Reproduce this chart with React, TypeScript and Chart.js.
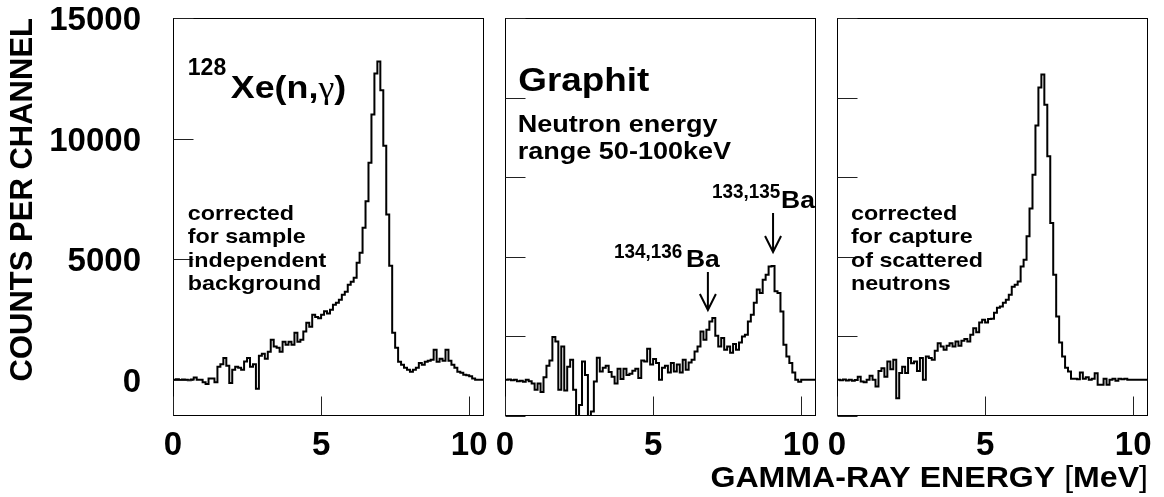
import React, { useEffect, useRef } from 'react';
import { Chart, registerables } from 'chart.js';

Chart.register(...registerables);

// Energy binning of the spectra (MeV)
const BIN_WIDTH = 0.1;
const E_MAX = 10.5;

// Counts per 0.1 MeV channel, 128Xe(n,gamma), corrected for sample independent background
const XE128_COUNTS = [
  0, 20, -10, 10, 0, -20, 10, 100, 0, 0,
  -100, -170, 50, 50, -100, 540, 650, 900, 580, -130,
  415, 540, 500, 415, 760, 900, 540, 650, -370, 1000,
  1080, 870, 1160, 1660, 1380, 1330, 1160, 1580, 1450, 1580,
  1450, 1950, 1580, 1660, 2000, 2370, 2200, 2700, 2600, 2550,
  2700, 2840, 2750, 2900, 3110, 3200, 3320, 3530, 3650, 3940,
  4070, 4230, 4850, 5270, 6300, 7400, 9000, 11000, 12700, 13200,
  12000, 9700, 6850, 4730, 1950, 1330, 750, 620, 500, 415,
  330, 415, 500, 700, 620, 750, 790, 830, 1250, 750,
  870, 790, 1250, 790, 620, 500, 330, 290, 210, 190,
  150, 50, 0, 0, 0,
];

// Counts per channel, graphite sample, neutron energy range 50-100 keV
const GRAPHITE_COUNTS = [
  0, 10, -20, 0, -60, -40, -80, 0, -60, -150,
  -415, -150, -500, 110, 580, 800, 1780, 1590, -410, 1380,
  -440, 540, 830, -410, -2500, -1040, 760, 200, -2500, -1310,
  -70, 910, 340, 500, 580, 320, 130, -150, 460, 30,
  460, 200, 250, 380, 460, 80, 800, 760, 1290, 640,
  860, 700, 0, 500, 580, 300, 700, 340, 630, 300,
  830, 415, 720, 830, 1170, 1380, 2000, 1660, 2075, 2420,
  2560, 1830, 1380, 1730, 1245, 1380, 1120, 1490, 1245, 1550,
  1800, 1870, 2420, 2700, 3190, 3740, 3600, 4150, 4360, 4700,
  4720, 3670, 3600, 2830, 1450, 970, 700, 300, 0, -80,
  0, 0, 0, 0, 0,
];

// Counts per channel, 128Xe corrected for capture of scattered neutrons
const XE128_SCATTER_CORRECTED_COUNTS = [
  0, -20, 10, -30, 0, -40, -10, 130, -70, -100,
  0, 170, 0, -280, 370, 480, 130, 760, 440, 830,
  -760, 280, 540, 280, 900, 690, 760, 370, 900, 0,
  970, 900, 830, 1210, 1520, 1380, 1250, 1410, 1520, 1380,
  1590, 1410, 1620, 1690, 1590, 1870, 2140, 1970, 2380, 2490,
  2380, 2520, 2530, 2780, 2990, 3040, 3190, 3320, 3530, 3860,
  3940, 4080, 4700, 4980, 5950, 7100, 8500, 10540, 12120, 12660,
  11400, 9270, 6500, 4360, 2630, 1550, 970, 500, 340, 40,
  40, 20, 300, 40, 110, 0, 40, 270, -200, -200,
  40, -200, 0, 40, -40, 40, 20, 40, 0, 0,
  0, 0, 0, 0, 0,
];

const X_TICKS = [0, 5, 10];
const Y_TICKS = [0, 5000, 10000, 15000];
const Y_MIN = -1500;
const Y_MAX = 15000;
// Relative scale ticks shown on the middle and right panels
const REL_TICKS = [0, 1, 2, 3, 4, 5];

const SANS = "'Liberation Sans', Arial, Helvetica, sans-serif";
const SERIF = "'Liberation Serif', 'Times New Roman', serif";
const INK = '#000';

const W = 1164;
const H = 497;

type Run = { text: string; size: number; bold?: boolean; serif?: boolean };
type Note = { x: number; y: number; runs: Run[]; sx?: number; align?: 'left' | 'right' };
type Arrow = { x: number; from: number; to: number };
type TickSet = { scale: string; values: number[]; length: number };
type DecorOptions = { ticks: TickSet[]; notes: Note[]; arrows: Arrow[] };

const label = (text: string, size: number, x: number, y: number, sx = 1): Note => ({
  x,
  y,
  sx,
  runs: [{ text, size, bold: true }],
});

const toPoints = (counts: number[]) => {
  const pts = counts.map((c, i) => ({ x: i * BIN_WIDTH, y: c }));
  pts.push({ x: E_MAX, y: counts[counts.length - 1] });
  return pts;
};

const runFont = (run: Run) => `${run.bold ? 'bold ' : ''}${run.size}px ${run.serif ? SERIF : SANS}`;

// Frame, inward tick marks, text labels and arrows for one panel
const panelDecor = {
  id: 'panelDecor',
  afterDatasetsDraw(chart: any, _args: any, opts: DecorOptions) {
    const { ctx, chartArea, scales } = chart;
    const xs = scales.x;
    const ys = scales.y;
    ctx.save();
    ctx.strokeStyle = INK;
    ctx.lineWidth = 1;
    const l = Math.round(chartArea.left) + 0.5;
    const t = Math.round(chartArea.top) + 0.5;
    const r = Math.round(chartArea.right) - 0.5;
    const b = Math.round(chartArea.bottom) - 0.5;
    ctx.strokeRect(l, t, r - l, b - t);

    ctx.strokeStyle = '#222';
    for (const set of opts.ticks || []) {
      const s = scales[set.scale];
      ctx.beginPath();
      for (const v of set.values) {
        if (s.isHorizontal()) {
          const px = Math.round(s.getPixelForValue(v)) + 0.5;
          ctx.moveTo(px, b);
          ctx.lineTo(px, b - set.length);
        } else {
          const py = Math.round(s.getPixelForValue(v)) + 0.5;
          ctx.moveTo(l, py);
          ctx.lineTo(l + set.length, py);
        }
      }
      ctx.stroke();
    }

    ctx.fillStyle = INK;
    ctx.textBaseline = 'alphabetic';
    ctx.textAlign = 'left';
    for (const n of opts.notes || []) {
      ctx.save();
      ctx.translate(xs.getPixelForValue(n.x), ys.getPixelForValue(n.y));
      ctx.scale(n.sx || 1, 1);
      let cx = 0;
      if (n.align === 'right') {
        for (const run of n.runs) {
          ctx.font = runFont(run);
          cx -= ctx.measureText(run.text).width;
        }
      }
      for (const run of n.runs) {
        ctx.font = runFont(run);
        ctx.fillText(run.text, cx, 0);
        cx += ctx.measureText(run.text).width;
      }
      ctx.restore();
    }

    ctx.strokeStyle = INK;
    ctx.lineWidth = 2;
    for (const a of opts.arrows || []) {
      const px = xs.getPixelForValue(a.x);
      const y0 = ys.getPixelForValue(a.from);
      const y1 = ys.getPixelForValue(a.to);
      ctx.beginPath();
      ctx.moveTo(px, y0);
      ctx.lineTo(px, y1);
      ctx.moveTo(px - 8, y1 - 16);
      ctx.lineTo(px, y1);
      ctx.lineTo(px + 8, y1 - 16);
      ctx.stroke();
    }
    ctx.restore();
  },
};

const tickFont = { family: SANS, size: 33, weight: 'bold' as const };

const setTicks = (values: number[]) => (axis: any) => {
  axis.ticks = values.map((v) => ({ value: v }));
};

function makeConfig(
  counts: number[],
  area: { left: number; right: number },
  decor: DecorOptions,
  first: boolean
): any {
  return {
    type: 'line',
    data: {
      datasets: [
        {
          data: toPoints(counts),
          borderColor: INK,
          borderWidth: 2,
          pointRadius: 0,
          stepped: true,
          fill: false,
        },
      ],
    },
    plugins: [panelDecor],
    options: {
      animation: false,
      responsive: false,
      events: [],
      layout: {
        padding: { left: 0, right: W - area.right, top: 18, bottom: 0 },
      },
      plugins: {
        legend: { display: false },
        tooltip: { enabled: false },
        panelDecor: decor,
      },
      scales: {
        x: {
          type: 'linear',
          min: 0,
          max: E_MAX,
          afterBuildTicks: setTicks(X_TICKS),
          afterFit: (s: any) => {
            s.height = H - 416;
            s.paddingLeft = 0;
            s.paddingRight = 0;
          },
          grid: { display: false, drawTicks: false },
          border: { display: false },
          ticks: {
            font: tickFont,
            color: INK,
            padding: 10,
            maxRotation: 0,
            autoSkip: false,
            callback: (v: number) => String(v),
          },
        },
        y: {
          type: 'linear',
          display: first,
          min: Y_MIN,
          max: Y_MAX,
          afterBuildTicks: setTicks(Y_TICKS),
          afterFit: (s: any) => {
            s.width = area.left;
            s.paddingTop = 0;
            s.paddingBottom = 0;
          },
          grid: { display: false, drawTicks: false },
          border: { display: false },
          ticks: {
            font: tickFont,
            color: INK,
            padding: 32,
            labelOffset: 3,
            autoSkip: false,
            callback: (v: number) => String(v),
          },
          title: {
            display: first,
            text: 'COUNTS PER CHANNEL',
            align: 'end',
            color: INK,
            font: { family: SANS, size: 31, weight: 'bold' },
            padding: { top: 5, bottom: 0 },
          },
        },
        rel: {
          type: 'linear',
          display: false,
          position: 'left',
          min: 0,
          max: 5,
          afterFit: (s: any) => {
            s.width = 0;
            s.paddingTop = 0;
            s.paddingBottom = 0;
          },
        },
      },
    },
  };
}

const NOTE_LINES = [6625, 5680, 4690, 3720];
// Baseline of the energy axis title, below the panels
const X_TITLE_Y = -4444;

const PANELS: { counts: number[]; area: { left: number; right: number }; decor: DecorOptions }[] = [
  {
    counts: XE128_COUNTS,
    area: { left: 173, right: 484 },
    decor: {
      ticks: [
        { scale: 'x', values: X_TICKS, length: 19 },
        { scale: 'y', values: Y_TICKS, length: 20 },
      ],
      notes: [
        label('128', 23, 0.5, 12640),
        {
          x: 1.95,
          y: 11670,
          sx: 1.12,
          runs: [
            { text: 'Xe(n,', size: 32, bold: true },
            { text: 'γ', size: 32, serif: true },
            { text: ')', size: 32, bold: true },
          ],
        },
        ...['corrected', 'for sample', 'independent', 'background'].map((t, i) =>
          label(t, 21, 0.5, NOTE_LINES[i], 1.11)
        ),
      ],
      arrows: [],
    },
  },
  {
    counts: GRAPHITE_COUNTS,
    area: { left: 505, right: 816 },
    decor: {
      ticks: [
        { scale: 'x', values: X_TICKS, length: 19 },
        { scale: 'rel', values: REL_TICKS, length: 20 },
      ],
      notes: [
        label('Graphit', 33.5, 0.45, 11973, 1.1),
        label('Neutron energy', 23.5, 0.43, 10260, 1.15),
        label('range 50-100keV', 23.5, 0.43, 9154, 1.15),
        label('134,136', 21, 3.68, 5050, 0.9),
        label('Ba', 23, 6.11, 4677, 1.15),
        label('133,135', 21, 6.99, 7537, 0.9),
        label('Ba', 23, 9.32, 7122, 1.15),
      ],
      arrows: [
        { x: 6.85, from: 4469, to: 2894 },
        { x: 9.05, from: 6915, to: 5298 },
      ],
    },
  },
  {
    counts: XE128_SCATTER_CORRECTED_COUNTS,
    area: { left: 837, right: 1148 },
    decor: {
      ticks: [
        { scale: 'x', values: X_TICKS, length: 19 },
        { scale: 'rel', values: REL_TICKS, length: 20 },
      ],
      notes: [
        ...['corrected', 'for capture', 'of scattered', 'neutrons'].map((t, i) =>
          label(t, 21, 0.47, NOTE_LINES[i], 1.11)
        ),
        {
          x: E_MAX,
          y: X_TITLE_Y,
          sx: 1.07,
          align: 'right',
          runs: [
            { text: 'GAMMA-RAY ENERGY ', size: 30, bold: true },
            { text: '[', size: 30 },
            { text: 'MeV', size: 30, bold: true },
            { text: ']', size: 30 },
          ],
        },
      ],
      arrows: [],
    },
  },
];

function Panel({ index }: { index: number }) {
  const ref = useRef<HTMLCanvasElement | null>(null);
  useEffect(() => {
    const p = PANELS[index];
    const chart = new Chart(
      ref.current as HTMLCanvasElement,
      makeConfig(p.counts, p.area, p.decor, index === 0)
    );
    return () => chart.destroy();
  }, [index]);
  return (
    <canvas
      ref={ref}
      width={W}
      height={H}
      style={{ position: 'absolute', left: 0, top: 0, width: W, height: H }}
    />
  );
}

export default function App() {
  return (
    <div
      style={{
        position: 'fixed',
        left: 0,
        top: 0,
        width: W,
        height: H,
        background: '#fff',
        overflow: 'hidden',
      }}
    >
      {PANELS.map((_, i) => (
        <Panel key={i} index={i} />
      ))}
    </div>
  );
}
